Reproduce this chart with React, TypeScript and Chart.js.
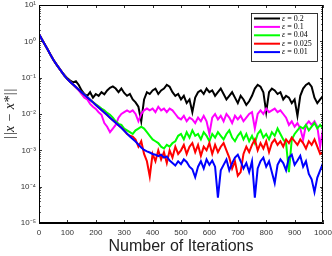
import { useEffect, useRef } from "react";
import { Chart, registerables } from "chart.js";

Chart.register(...registerables);

// iteration numbers (x)
const iterations = [
  0, 10, 20, 30, 40, 50, 60, 70, 80, 90,
  100, 110, 120, 130, 140, 150, 160, 170, 180, 190,
  200, 210, 220, 230, 240, 250, 260, 270, 280, 290,
  300, 310, 320, 330, 340, 350, 360, 370, 380, 390,
  400, 410, 420, 430, 440, 450, 460, 470, 480, 490,
  500, 510, 520, 530, 540, 550, 560, 570, 580, 590,
  600, 610, 620, 630, 640, 650, 660, 670, 680, 690,
  700, 710, 720, 730, 740, 750, 760, 770, 780, 790,
  800, 810, 820, 830, 840, 850, 860, 870, 880, 890,
  900, 910, 920, 930, 940, 950, 960, 970, 980, 990,
  1000,
];

// values, as log10 of ||x - x*||
const eps02Log = [
  0.2, 0.06, -0.08, -0.22, -0.36, -0.5, -0.62, -0.73, -0.84, -0.93,
  -1.02, -1.08, -1.13, -1.1, -1.2, -1.35, -1.45, -1.5, -1.4, -1.55,
  -1.45, -1.5, -1.4, -1.46, -1.35, -1.28, -1.24, -1.3, -1.4, -1.3,
  -1.42, -1.5, -1.45, -1.6, -1.68, -1.8, -2.2, -1.6, -1.4, -1.45,
  -1.35, -1.3, -1.45, -1.35, -1.3, -1.2, -1.25, -1.4, -1.5, -1.45,
  -1.6, -1.5, -1.7, -1.6, -1.95, -1.55, -1.4, -1.35, -1.45, -1.3,
  -1.4, -1.35, -1.5, -1.4, -1.3, -1.45, -1.6, -1.5, -1.4, -1.55,
  -1.7, -1.5, -1.6, -1.75, -1.65, -1.5, -1.3, -1.2, -1.25, -1.4,
  -1.95, -1.4, -1.3, -1.35, -1.45, -1.4, -1.6, -1.5, -1.55, -1.7,
  -1.6, -2.05, -1.5, -1.3, -1.2, -1.15, -1.25, -1.55, -1.7, -1.6,
  -1.5,
];

const eps01Log = [
  0.2, 0.06, -0.08, -0.22, -0.36, -0.5, -0.62, -0.73, -0.84, -0.95,
  -1.04, -1.12, -1.19, -1.27, -1.35, -1.45, -1.55, -1.6, -1.72, -1.8,
  -1.86, -1.95, -2.02, -2.25, -2.35, -2.5, -2.4, -2.3, -2.1, -2.0,
  -1.95, -1.9, -1.95, -1.9, -2.0, -2.2, -2.0, -1.9, -1.85, -1.9,
  -1.85, -1.95, -1.8, -1.9, -1.85, -1.95, -1.85, -1.9, -2.0, -2.1,
  -2.15, -2.05, -2.2, -2.1, -2.15, -2.25, -2.1, -2.2, -2.05, -2.2,
  -2.55, -2.1, -2.0, -2.15, -2.05, -2.2, -2.0, -2.1, -2.25, -2.05,
  -2.15, -2.05, -2.2, -2.1, -2.0, -1.95, -2.4, -2.0, -1.9, -2.0,
  -1.85, -1.95, -1.9, -1.85, -1.95, -1.9, -2.0, -2.1, -2.3, -2.2,
  -2.35, -2.25, -2.4, -2.7, -2.3, -2.2, -2.3, -2.2, -2.35, -2.9,
  -2.4,
];

const eps004Log = [
  0.2, 0.06, -0.08, -0.22, -0.36, -0.5, -0.62, -0.73, -0.84, -0.95,
  -1.04, -1.12, -1.19, -1.26, -1.33, -1.4, -1.47, -1.54, -1.61, -1.67,
  -1.73, -1.79, -1.85, -1.9, -1.97, -2.02, -2.1, -2.2, -2.27, -2.3,
  -2.4, -2.45, -2.5, -2.55, -2.45, -2.4, -2.35, -2.4, -2.5, -2.6,
  -2.7, -2.75, -2.8, -2.9, -2.95, -2.85, -2.9, -2.8, -2.75, -2.6,
  -2.55, -2.7, -2.5, -2.65, -2.45, -2.6, -2.55, -2.7, -2.5, -2.6,
  -2.75, -2.55, -2.65, -2.5, -2.6, -2.7, -2.55, -2.45, -2.65, -2.75,
  -2.6, -2.5, -2.7, -2.55, -2.75, -2.6, -2.8, -2.55, -2.45, -2.65,
  -2.55, -2.7, -2.5, -2.6, -2.4, -2.55, -2.7, -2.8, -3.6, -2.7,
  -2.55, -2.45, -2.35, -2.4, -2.3, -2.45, -2.35, -2.25, -2.4, -2.3,
  -2.4,
];

const eps0025Log = [
  0.2, 0.06, -0.08, -0.22, -0.36, -0.5, -0.62, -0.73, -0.84, -0.95,
  -1.04, -1.12, -1.19, -1.26, -1.33, -1.4, -1.47, -1.54, -1.61, -1.68,
  -1.75, -1.82, -1.89, -1.96, -2.03, -2.1, -2.17, -2.24, -2.31, -2.38,
  -2.45, -2.55, -2.6, -2.62, -2.7, -2.9, -2.75, -3.1, -3.3, -3.72,
  -3.1, -3.3, -3.0, -3.25, -3.05, -3.35, -3.0, -3.2, -2.9, -3.1,
  -3.0, -2.85, -3.1, -2.9, -2.8, -3.05, -2.85, -3.15, -2.9, -3.0,
  -2.8, -3.1, -2.85, -3.05, -2.9, -2.8, -3.0, -3.2, -3.5, -3.3,
  -3.7, -3.6, -3.1, -2.9, -3.05, -2.85, -2.7, -3.0, -2.8, -2.95,
  -2.75, -3.05, -2.8, -2.7, -2.85, -2.75, -2.9, -2.7, -2.8, -2.65,
  -2.75, -2.85, -2.7, -2.8, -2.95, -2.75, -2.85, -2.7, -2.9, -3.1,
  -3.05,
];

const eps001Log = [
  0.2, 0.06, -0.08, -0.22, -0.36, -0.5, -0.62, -0.73, -0.84, -0.95,
  -1.04, -1.12, -1.19, -1.26, -1.33, -1.4, -1.47, -1.54, -1.61, -1.68,
  -1.75, -1.82, -1.89, -1.96, -2.03, -2.1, -2.17, -2.24, -2.31, -2.38,
  -2.46, -2.54, -2.62, -2.69, -2.76, -2.84, -2.92, -2.99, -3.03, -3.06,
  -3.1, -3.12, -3.16, -3.12, -3.2, -3.17, -3.28, -3.35, -3.42, -3.3,
  -3.38, -3.25, -3.32, -3.45, -3.52, -3.74, -3.45, -3.3, -3.5, -3.25,
  -3.4, -3.28, -3.45, -4.3, -3.55, -3.4, -3.25, -3.55, -3.35, -3.2,
  -3.12, -3.3, -3.5, -3.35, -3.6, -3.3, -4.3, -3.5, -3.3, -3.2,
  -3.45, -3.3, -3.6, -3.9, -3.4, -3.25, -3.35, -3.55, -3.2, -3.12,
  -3.4, -3.28, -3.15, -3.45, -3.3, -3.65, -3.8, -4.15, -3.75, -3.55,
  -3.35,
];

const seriesLabels = ["ε = 0.2", "ε = 0.1", "ε = 0.04", "ε = 0.025", "ε = 0.01"];
const seriesColors = ["#000000", "#ff00ff", "#00ff00", "#ff0000", "#0000ff"];
const seriesLogs = [eps02Log, eps01Log, eps004Log, eps0025Log, eps001Log];

const yTickValues = [1e-5, 1e-4, 1e-3, 1e-2, 1e-1, 1e0, 1e1];
const yTickLabels = ["10⁻⁵", "10⁻⁴", "10⁻³", "10⁻²", "10⁻¹", "10⁰", "10¹"];
const xTickValues = [0, 100, 200, 300, 400, 500, 600, 700, 800, 900, 1000];
const xTickLabels = ["0", "100", "200", "300", "400", "500", "600", "700", "800", "900", "1000"];

const boxPlugin = {
  id: "boxTicks",
  afterDraw(chart: any) {
    const { ctx, chartArea: a, scales } = chart;
    const xs = scales.x;
    const ys = scales.y;
    ctx.save();
    ctx.strokeStyle = "#000";
    ctx.lineWidth = 1;
    ctx.beginPath();
    ctx.rect(a.left + 0.5, a.top + 0.5, a.right - a.left - 1, a.bottom - a.top - 1);
    ctx.stroke();
    ctx.lineWidth = 0.8;
    ctx.beginPath();
    for (const v of xTickValues) {
      const px = Math.round(xs.getPixelForValue(v)) + 0.5;
      ctx.moveTo(px, a.bottom);
      ctx.lineTo(px, a.bottom - 3);
      ctx.moveTo(px, a.top);
      ctx.lineTo(px, a.top + 3);
    }
    for (let k = 0; k < yTickValues.length; k++) {
      const base = yTickValues[k];
      const py = Math.round(ys.getPixelForValue(base)) + 0.5;
      ctx.moveTo(a.left, py);
      ctx.lineTo(a.left + 3, py);
      ctx.moveTo(a.right, py);
      ctx.lineTo(a.right - 3, py);
      if (k < yTickValues.length - 1) {
        for (let m = 2; m <= 9; m++) {
          const pm = Math.round(ys.getPixelForValue(base * m)) + 0.5;
          ctx.moveTo(a.left, pm);
          ctx.lineTo(a.left + 1.8, pm);
          ctx.moveTo(a.right, pm);
          ctx.lineTo(a.right - 1.8, pm);
        }
      }
    }
    ctx.stroke();

    // legend box
    const lx = a.right - 72;
    const ly = a.top + 8;
    const lw = 66;
    const rowH = 8.4;
    const lh = rowH * seriesLabels.length + 6;
    ctx.fillStyle = "#fff";
    ctx.fillRect(lx, ly, lw, lh);
    ctx.strokeStyle = "#000";
    ctx.lineWidth = 0.8;
    ctx.strokeRect(lx + 0.5, ly + 0.5, lw, lh);
    const ds = chart.data.datasets;
    for (let i = 0; i < ds.length; i++) {
      const cy = ly + 5.5 + i * rowH;
      ctx.strokeStyle = ds[i].borderColor;
      ctx.lineWidth = 2;
      ctx.beginPath();
      ctx.moveTo(lx + 3, cy);
      ctx.lineTo(lx + 29, cy);
      ctx.stroke();
      const label: string = ds[i].label;
      ctx.fillStyle = "#000";
      ctx.textBaseline = "middle";
      ctx.font = "italic 8px 'Liberation Serif'";
      ctx.fillText(label.slice(0, 1), lx + 31, cy);
      const w = ctx.measureText(label.slice(0, 1)).width;
      ctx.font = "8px 'Liberation Serif'";
      ctx.fillText(label.slice(1), lx + 31 + w, cy);
    }
    ctx.restore();
  },
};

export default function App() {
  const ref = useRef<HTMLCanvasElement | null>(null);
  useEffect(() => {
    document.body.style.margin = "0";
    const canvas = ref.current;
    if (!canvas) return;
    const datasets = seriesLabels.map((label, i) => ({
      label,
      data: iterations.map((x, j) => ({ x, y: Math.pow(10, seriesLogs[i][j]) })),
      borderColor: seriesColors[i],
      backgroundColor: seriesColors[i],
      borderWidth: 2,
      pointRadius: 0,
      tension: 0,
      fill: false,
      order: seriesLabels.length - 1 - i,
    }));
    const chart = new Chart(canvas, {
      type: "line",
      data: { datasets },
      plugins: [boxPlugin],
      options: {
        animation: false,
        responsive: false,
        maintainAspectRatio: false,
        layout: { padding: { top: 5, right: 9, left: 0, bottom: 0 } },
        plugins: {
          legend: { display: false },
          tooltip: { enabled: false },
        },
        scales: {
          x: {
            type: "linear",
            min: 0,
            max: 1000,
            grid: { display: false, drawTicks: false },
            border: { display: true, color: "#000", width: 1 },
            afterBuildTicks: (s: any) => {
              s.ticks = xTickValues.map((v) => ({ value: v }));
            },
            ticks: {
              autoSkip: false,
              maxRotation: 0,
              padding: 5,
              color: "#333",
              font: { family: "'Liberation Sans'", size: 8 },
              callback: (v: any) => {
                const idx = xTickValues.indexOf(Number(v));
                return idx >= 0 ? xTickLabels[idx] : "";
              },
            },
            title: {
              display: true,
              text: "Number of Iterations",
              color: "#222",
              padding: { top: 0, bottom: 0 },
              font: { family: "'Liberation Sans'", size: 16 },
            },
            afterFit: (s: any) => {
              s.height = 33;
              s.paddingRight = 0;
              s.paddingLeft = 0;
            },
          },
          y: {
            type: "logarithmic",
            min: 1e-5,
            max: 1e1,
            grid: { display: false, drawTicks: false },
            border: { display: true, color: "#000", width: 1 },
            afterBuildTicks: (s: any) => {
              s.ticks = yTickValues.map((v) => ({ value: v }));
            },
            ticks: {
              padding: 3,
              color: "#333",
              font: { family: "'Liberation Sans'", size: 8 },
              callback: (v: any) => {
                const idx = yTickValues.findIndex((t) => Math.abs(Math.log10(t) - Math.log10(Number(v))) < 1e-6);
                return idx >= 0 ? yTickLabels[idx] : "";
              },
            },
            title: {
              display: true,
              text: "||x − x*||",
              color: "#222",
              padding: { top: 2, bottom: 0 },
              font: { family: "'Liberation Serif'", size: 14, style: "italic" },
            },
            afterFit: (s: any) => {
              s.width = 39;
              s.paddingTop = 0;
              s.paddingBottom = 0;
            },
          },
        },
      },
    });
    return () => chart.destroy();
  }, []);
  return (
    <div style={{ width: 332, height: 256 }}>
      <canvas ref={ref} width={332} height={256} style={{ display: "block" }} />
    </div>
  );
}
